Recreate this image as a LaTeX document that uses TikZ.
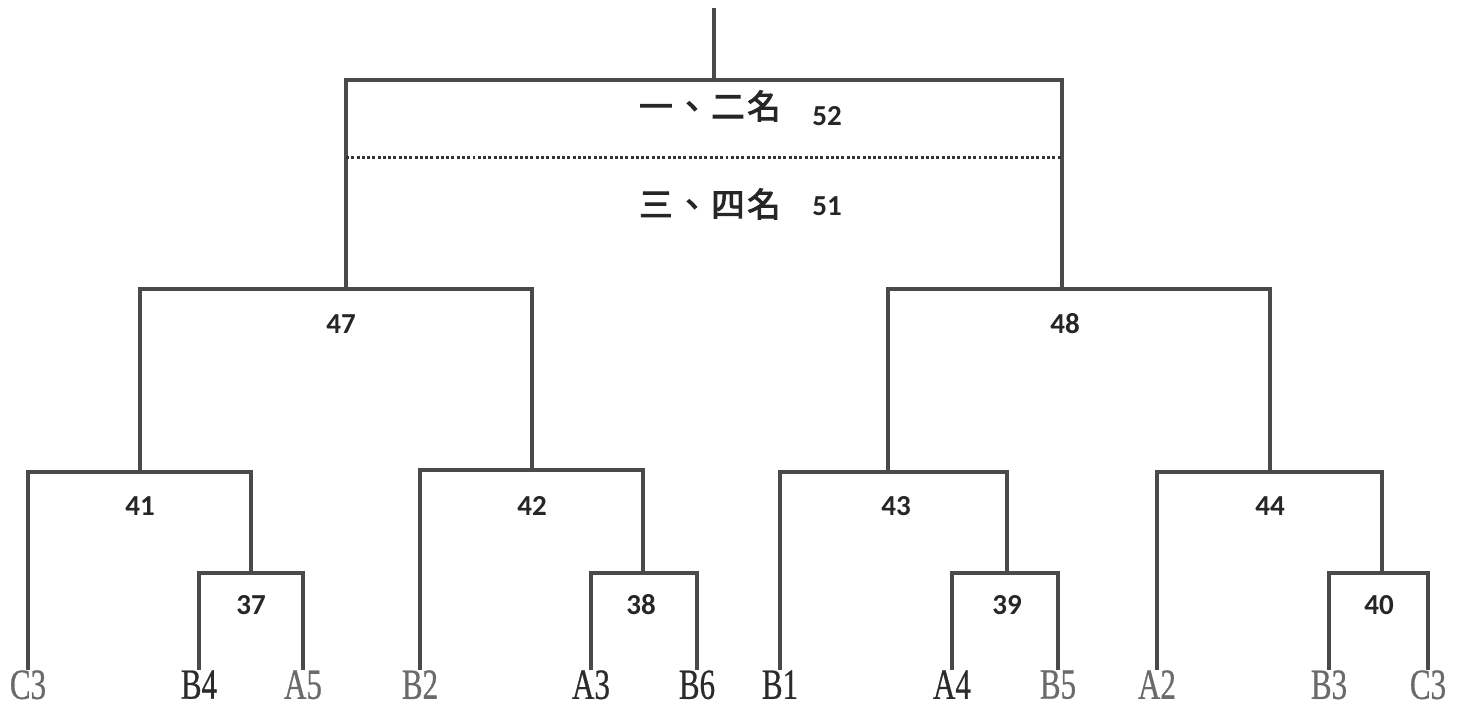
\documentclass[tikz,border=0pt]{standalone}
\usepackage{fontspec}
\usepackage{tikz}
\usepackage{xcolor}
\setmainfont{Liberation Serif}
\newfontfamily\leaffont{Liberation Serif}[FakeStretch=0.72, FakeBold=0.6]
\newfontfamily\numfont{Carlito}
\newfontfamily\cjk{Noto Sans CJK TC}[FakeBold=3, LetterSpace=8]
\definecolor{linegray}{HTML}{4A4A4A}
\definecolor{leafdark}{HTML}{2B2B2B}
\definecolor{leaflight}{HTML}{6A6A6A}

\begin{document}
\begin{tikzpicture}[x=0.02cm, y=-0.02cm,
                    branch/.style={draw=linegray, line width=2.2pt},
                    leaf/.style={anchor=north, inner sep=0pt, text=leafdark,
                                 font=\leaffont\fontsize{24.5}{24.5}\selectfont},
                    pale/.style={leaf, text=leaflight},
                    score/.style={inner sep=0pt, text=black!85,
                                  font=\numfont\bfseries\fontsize{16.5}{16.5}\selectfont},
                    rank/.style={inner sep=0pt, text=black!85,
                                 font=\cjk\fontsize{19}{19}\selectfont}]
                    \useasboundingbox (0,0) rectangle (1461,711);
                    % leaves
                    \node[pale] (c3a) at (28,670) {C3};
                    \node[leaf] (b4) at (199,670) {B4};
                    \node[pale] (a5) at (303,670) {A5};
                    \node[pale] (b2) at (420,670) {B2};
                    \node[leaf] (a3) at (591,670) {A3};
                    \node[leaf] (b6) at (697,670) {B6};
                    \node[leaf] (b1) at (780,670) {B1};
                    \node[leaf] (a4) at (952,670) {A4};
                    \node[pale] (b5) at (1058,670) {B5};
                    \node[pale] (a2) at (1157,670) {A2};
                    \node[pale] (b3) at (1329,670) {B3};
                    \node[pale] (c3b) at (1428,670) {C3};
                    % joins
                    \coordinate (j37) at (251,573);
                    \coordinate (j38) at (643,573);
                    \coordinate (j39) at (1007,573);
                    \coordinate (j40) at (1382,573);
                    \coordinate (j41) at (140,472);
                    \coordinate (j42) at (532,470);
                    \coordinate (j43) at (888,472);
                    \coordinate (j44) at (1270,472);
                    \coordinate (j47) at (346,289);
                    \coordinate (j48) at (1062,289);
                    \coordinate (j52) at (714,80);
                    \coordinate (root) at (714,8);
                    \draw[branch] (b4) |- (j37) -| (a5);
                    \draw[branch] (a3) |- (j38) -| (b6);
                    \draw[branch] (a4) |- (j39) -| (b5);
                    \draw[branch] (b3) |- (j40) -| (c3b);
                    \draw[branch] (c3a) |- (j41) -| (j37);
                    \draw[branch] (b2) |- (j42) -| (j38);
                    \draw[branch] (b1) |- (j43) -| (j39);
                    \draw[branch] (a2) |- (j44) -| (j40);
                    \draw[branch] (j41) |- (j47) -| (j42);
                    \draw[branch] (j43) |- (j48) -| (j44);
                    \draw[branch] (j47) |- (j52) -| (j48);
                    \draw[branch] (j52) -- (root);
                    \coordinate (dl) at (346,157);
                    \coordinate (dr) at (1062,157);
                    \draw[draw=black!80, line width=1.7pt, dash pattern=on 1.7pt off 1.3pt] (dl) -- (dr);
                    % scores
                    \node[score] (s37) at (251,605) {37};
                    \node[score] (s38) at (641,605) {38};
                    \node[score] (s39) at (1007,605) {39};
                    \node[score] (s40) at (1379,605) {40};
                    \node[score] (s41) at (140,506) {41};
                    \node[score] (s42) at (532,506) {42};
                    \node[score] (s43) at (896,506) {43};
                    \node[score] (s44) at (1270,506) {44};
                    \node[score] (s47) at (341,324) {47};
                    \node[score] (s48) at (1065,324) {48};
                    \node[score] (s52) at (827,116) {52};
                    \node[score] (s51) at (827,206) {51};
                    \node[rank] (first) at (710,106) {一、二名};
                    \node[rank] (third) at (710,204) {三、四名};
\end{tikzpicture}
\end{document}
